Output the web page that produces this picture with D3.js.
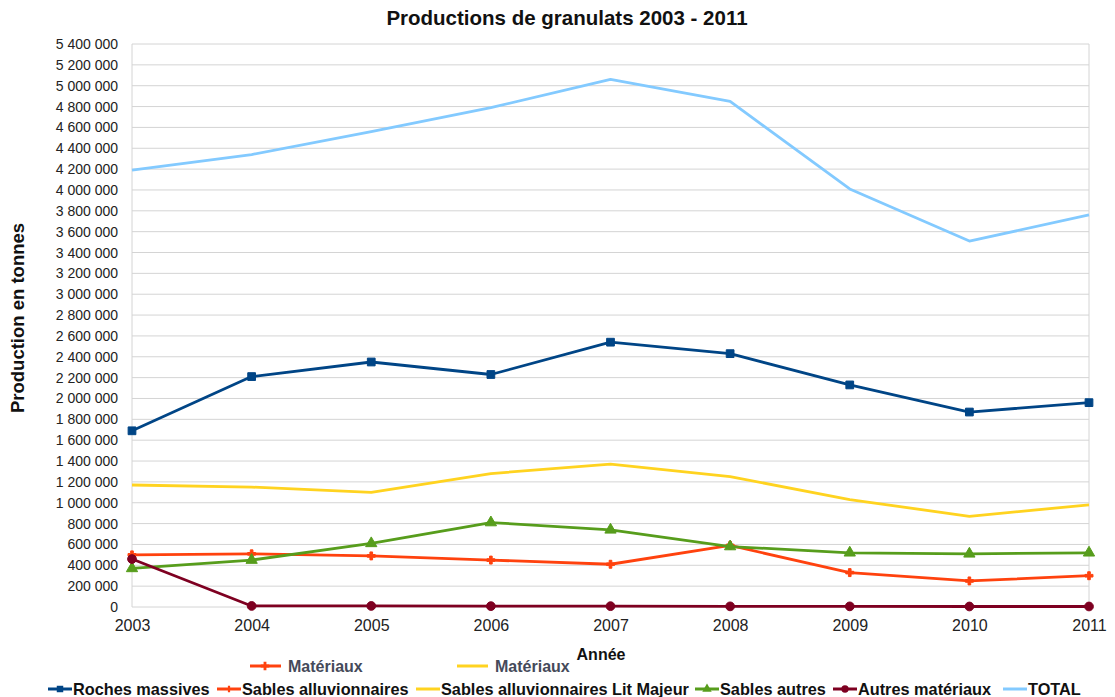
<!DOCTYPE html>
<html>
<head>
<meta charset="utf-8">
<script src="https://cdn.jsdelivr.net/npm/d3@7"></script>
<style>
  body { margin: 0; background: #fff; }
  svg text { font-family: "Liberation Sans", Arial, sans-serif; }
</style>
</head>
<body>
<svg id="chart" width="1115" height="697"></svg>
<script>
// data
var years = [2003, 2004, 2005, 2006, 2007, 2008, 2009, 2010, 2011];
var rochesMassives = [1690000, 2210000, 2350000, 2230000, 2540000, 2430000, 2130000, 1870000, 1960000];
var sablesAlluv = [500000, 510000, 490000, 450000, 410000, 590000, 330000, 250000, 300000];
var sablesLitMajeur = [1170000, 1150000, 1100000, 1280000, 1370000, 1250000, 1030000, 870000, 980000];
var sablesAutres = [370000, 450000, 610000, 810000, 740000, 580000, 520000, 510000, 520000];
var autresMateriaux = [460000, 10000, 10000, 8000, 8000, 6000, 6000, 5000, 5000];
var total = [4190000, 4340000, 4560000, 4790000, 5060000, 4850000, 4010000, 3510000, 3760000];
var yTicks = d3.range(0, 5400001, 200000);

var series = [
  {name: "Roches massives", values: rochesMassives, color: "#004586", sym: d3.symbolSquare, size: 60},
  {name: "Sables alluvionnaires", values: sablesAlluv, color: "#ff420e", sym: d3.symbolCross, size: 35},
  {name: "Sables alluvionnaires Lit Majeur", values: sablesLitMajeur, color: "#ffd320", sym: null},
  {name: "Sables autres", values: sablesAutres, color: "#579d1c", sym: d3.symbolTriangle, size: 55},
  {name: "Autres matériaux", values: autresMateriaux, color: "#7e0021", sym: d3.symbolCircle, size: 60},
  {name: "TOTAL", values: total, color: "#83caff", sym: null}
];

var svg = d3.select("#chart");
var mLeft = 132, mRight = 1089, mTop = 44, mBottom = 607;

var x = d3.scaleLinear().domain([2003, 2011]).range([mLeft, mRight]);
var y = d3.scaleLinear().domain([0, 5400000]).range([mBottom, mTop]);

var fmt = function(d) { return d3.format(",")(d).replace(/,/g, " "); };

// grid
svg.append("g").selectAll("line").data(yTicks).join("line")
  .attr("x1", mLeft).attr("x2", mRight)
  .attr("y1", d => y(d)).attr("y2", d => y(d))
  .attr("stroke", "#d4d4d4").attr("stroke-width", 1);
svg.append("line").attr("x1", mLeft).attr("x2", mLeft).attr("y1", mTop).attr("y2", mBottom)
  .attr("stroke", "#d4d4d4");
svg.append("line").attr("x1", mRight).attr("x2", mRight).attr("y1", mTop).attr("y2", mBottom)
  .attr("stroke", "#d4d4d4");

// axes
var yAxis = svg.append("g").attr("transform", "translate(" + mLeft + ",0)")
  .call(d3.axisLeft(y).tickValues(yTicks).tickFormat(fmt).tickSize(0).tickPadding(14));
yAxis.select(".domain").remove();
yAxis.selectAll("text").attr("font-size", 14).attr("fill", "#222");

var xAxis = svg.append("g").attr("transform", "translate(0," + mBottom + ")")
  .call(d3.axisBottom(x).tickValues(years).tickFormat(d3.format("d")).tickSize(0).tickPadding(13));
xAxis.select(".domain").remove();
xAxis.selectAll("text").attr("font-size", 16).attr("fill", "#222");

// lines
var line = d3.line().x((d, i) => x(years[i])).y(d => y(d));
series.forEach(function(s) {
  svg.append("path").datum(s.values)
    .attr("d", line).attr("fill", "none")
    .attr("stroke", s.color).attr("stroke-width", 2.8).attr("stroke-linejoin", "round");
  if (s.sym) {
    svg.append("g").selectAll("path").data(s.values).join("path")
      .attr("transform", (d, i) => "translate(" + x(years[i]) + "," + y(d) + ")")
      .attr("d", d3.symbol().type(s.sym).size(s.size))
      .attr("fill", s.color).attr("stroke", s.color).attr("stroke-width", 1);
  }
});

// titles
svg.append("text").attr("x", 567).attr("y", 25).attr("text-anchor", "middle")
  .attr("font-size", 20.5).attr("font-weight", "bold").attr("fill", "#111")
  .text("Productions de granulats 2003 - 2011");
svg.append("text").attr("transform", "translate(24,318) rotate(-90)").attr("text-anchor", "middle")
  .attr("font-size", 18.5).attr("font-weight", "bold").attr("fill", "#111")
  .text("Production en tonnes");
svg.append("text").attr("x", 601).attr("y", 660).attr("text-anchor", "middle")
  .attr("font-size", 16).attr("font-weight", "bold").attr("fill", "#111")
  .text("Année");

// legend row 1
var row1 = [
  {color: "#ff420e", x: 250, sym: d3.symbolCross},
  {color: "#ffd320", x: 457, sym: null}
];
row1.forEach(function(r) {
  svg.append("line").attr("x1", r.x).attr("x2", r.x + 31).attr("y1", 666).attr("y2", 666)
    .attr("stroke", r.color).attr("stroke-width", 3);
  if (r.sym) svg.append("path").attr("transform", "translate(" + (r.x + 15) + ",666)")
    .attr("d", d3.symbol().type(r.sym).size(40)).attr("fill", r.color);
  svg.append("text").attr("x", r.x + 38).attr("y", 672).attr("font-size", 16)
    .attr("font-weight", "bold").attr("fill", "#454a5a").text("Matériaux");
});

// legend row 2
var legX = [48, 217, 416, 695, 833, 1003];
series.forEach(function(s, i) {
  var lx = legX[i];
  svg.append("line").attr("x1", lx).attr("x2", lx + 24).attr("y1", 689).attr("y2", 689)
    .attr("stroke", s.color).attr("stroke-width", 3);
  if (s.sym) svg.append("path").attr("transform", "translate(" + (lx + 12) + ",689)")
    .attr("d", d3.symbol().type(s.sym).size(s.size * 0.7)).attr("fill", s.color);
  svg.append("text").attr("x", lx + 25).attr("y", 695).attr("font-size", 16.3)
    .attr("font-weight", "bold").attr("fill", "#111").text(s.name);
});
</script>
</body>
</html>
